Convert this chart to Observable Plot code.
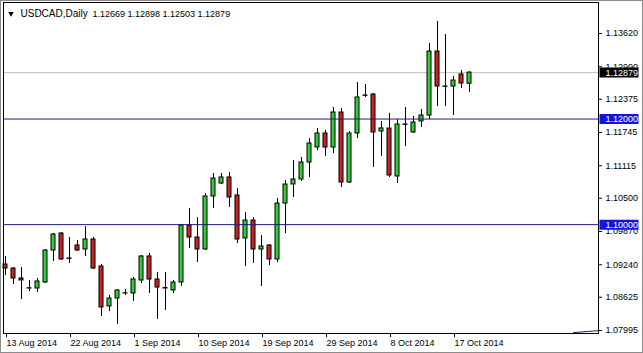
<!DOCTYPE html>
<html><head><meta charset="utf-8">
<script src="https://cdn.jsdelivr.net/npm/d3@7"></script>
<script src="https://cdn.jsdelivr.net/npm/@observablehq/plot@0.6"></script>
<style>
html,body{margin:0;padding:0;background:#fff;}
#chart svg{display:block;outline:1px solid #8c8c8c;outline-offset:-1px;}
</style></head><body><div id="chart"></div>
<script>
const symbolName = "USDCAD";
const timeframe = "Daily";
const dates = ["2014-08-13","2014-08-14","2014-08-15","2014-08-17","2014-08-18","2014-08-19","2014-08-20","2014-08-21","2014-08-22","2014-08-24",
"2014-08-25","2014-08-26","2014-08-27","2014-08-28","2014-08-29","2014-08-31","2014-09-01","2014-09-02","2014-09-03","2014-09-04",
"2014-09-05","2014-09-07","2014-09-08","2014-09-09","2014-09-10","2014-09-11","2014-09-12","2014-09-14","2014-09-15","2014-09-16",
"2014-09-17","2014-09-18","2014-09-19","2014-09-21","2014-09-22","2014-09-23","2014-09-24","2014-09-25","2014-09-26","2014-09-28",
"2014-09-29","2014-09-30","2014-10-01","2014-10-02","2014-10-03","2014-10-05","2014-10-06","2014-10-07","2014-10-08","2014-10-09",
"2014-10-10","2014-10-12","2014-10-13","2014-10-14","2014-10-15","2014-10-16","2014-10-17","2014-10-19","2014-10-20"];
const open = [1.09245,1.09169,1.08980,1.08795,1.08790,1.08904,1.09510,1.09832,1.09350,1.09605,
1.09529,1.09719,1.09207,1.08450,1.08601,1.08700,1.08696,1.08942,1.09397,1.08961,
1.08800,1.08753,1.08904,1.09984,1.09756,1.09529,1.10533,1.10779,1.10893,1.10552,
1.09738,1.10078,1.09529,1.09605,1.09340,1.10400,1.10760,1.10855,1.11177,1.11461,
1.11726,1.11461,1.12124,1.10798,1.11726,1.12440,1.12465,1.11764,1.11821,1.10912,
1.11890,1.11745,1.11954,1.12067,1.13279,1.12610,1.12616,1.12844,1.12669];
const high = [1.09397,1.09188,1.09188,1.08942,1.08980,1.09529,1.09832,1.09851,1.09756,1.09700,
1.09965,1.09756,1.09245,1.08658,1.08772,1.08772,1.08999,1.09416,1.09453,1.09094,
1.09094,1.08942,1.10003,1.10306,1.10135,1.10590,1.10969,1.10969,1.10988,1.10684,
1.10230,1.10135,1.09794,1.09624,1.10495,1.10836,1.11215,1.11271,1.11631,1.11821,
1.11783,1.12218,1.12200,1.11764,1.12692,1.12654,1.12484,1.11954,1.12105,1.11991,
1.12218,1.12048,1.12181,1.13431,1.13847,1.13601,1.12806,1.12919,1.12898];
const low = [1.09037,1.08866,1.08582,1.08734,1.08715,1.08885,1.09302,1.09321,1.09264,1.09491,
1.09397,1.09150,1.08260,1.08355,1.08109,1.08658,1.08544,1.08885,1.08696,1.08203,
1.08374,1.08696,1.08828,1.09548,1.09283,1.09510,1.10306,1.10760,1.10325,1.09643,
1.09207,1.09264,1.08828,1.09226,1.09283,1.09832,1.10514,1.10817,1.10893,1.11404,
1.11291,1.11347,1.10703,1.10779,1.11631,1.12408,1.11082,1.11291,1.10893,1.10779,
1.11480,1.11726,1.11840,1.11991,1.12237,1.12237,1.12067,1.12578,1.12503];
const close = [1.09169,1.08980,1.08942,1.08790,1.08923,1.09510,1.09813,1.09340,1.09359,1.09510,
1.09719,1.09169,1.08431,1.08601,1.08753,1.08696,1.08961,1.09397,1.08961,1.08809,
1.08790,1.08904,1.09984,1.09756,1.09529,1.10533,1.10874,1.10893,1.10514,1.09719,
1.10078,1.09529,1.09586,1.09340,1.10400,1.10760,1.10855,1.11177,1.11537,1.11726,
1.11461,1.12124,1.10798,1.11726,1.12408,1.12446,1.11745,1.11821,1.10931,1.11897,
1.11897,1.11935,1.12067,1.13279,1.12616,1.12616,1.12730,1.12673,1.12879];
const hLevels = [1.12000, 1.10000];
const yTicks = [1.13620,1.12990,1.12375,1.11745,1.11115,1.10500,1.09870,1.09240,1.08625,1.07995];
const xTickDates = ["2014-08-13","2014-08-22","2014-09-01","2014-09-10","2014-09-19","2014-09-29","2014-10-08","2014-10-17"];
const trendX = [71, 74.1];
const trendY = [1.07955, 1.07992];

const GREEN = "#32cd32", RED = "#cc2222", NAVY = "#1c1c78", BOXBLUE = "#1414e0";
const fmt5 = d3.format(".5f");
const parse = d3.utcParse("%Y-%m-%d"), fmtDate = d3.utcFormat("%-d %b %Y");
const data = dates.map((d, i) => ({i, date: d, open: open[i], high: high[i], low: low[i], close: close[i]}));
const last = data[data.length - 1];
const tickIdx = xTickDates.map(d => dates.indexOf(d));
const trend = trendX.map((x, k) => ({x, y: trendY[k]}));
const boxes = [{v: last.close, c: "#000000"}, ...hLevels.map(v => ({v, c: BOXBLUE}))];
const boxSymbol = {draw(ctx) { ctx.moveTo(-20, -5); ctx.lineTo(19, -5); ctx.lineTo(19, 5); ctx.lineTo(-20, 5); ctx.closePath(); }};
const font = "'Liberation Sans', Arial, sans-serif";

const chart = Plot.plot({
  width: 643, height: 353,
  marginLeft: 3, marginTop: 2, marginRight: 45, marginBottom: 20,
  style: {fontFamily: font, fontSize: "9px", background: "#fff", color: "#000", overflow: "visible"},
  x: {type: "linear", domain: [-0.25, 74.125]},
  y: {type: "linear", domain: [1.079382, 1.142071]},
  color: {type: "identity"},
  marks: [
    Plot.ruleY([last.close], {stroke: "#c0c0c0"}),
    Plot.ruleX(data, {x: "i", y1: "low", y2: "high", stroke: "#000"}),
    Plot.rect(data, {x1: d => d.i - 0.25, x2: d => d.i + 0.25, y1: "open", y2: "close",
      fill: d => d.close >= d.open ? GREEN : RED, stroke: "#000", strokeWidth: 1}),
    Plot.ruleY(hLevels, {stroke: NAVY}),
    Plot.line(trend, {x: "x", y: "y", stroke: NAVY, strokeWidth: 1}),
    Plot.frame({stroke: "#000"}),
    Plot.axisX({ticks: tickIdx, tickFormat: i => fmtDate(parse(dates[i])), tickSize: 4, tickPadding: 2,
      textAnchor: "start", dx: 1, fontSize: 9, label: null, stroke: "#000", fill: "#000"}),
    Plot.axisY({anchor: "right", ticks: yTicks, tickFormat: fmt5, tickSize: 3, tickPadding: 4,
      fontSize: 9, label: null, stroke: "#000", fill: "#000"}),
    Plot.dot(boxes, {y: "v", frameAnchor: "right", dx: 21, symbol: boxSymbol, fill: "c", stroke: null, r: 3}),
    Plot.text(boxes, {y: "v", text: d => fmt5(d.v), frameAnchor: "right", dx: 7, textAnchor: "start", fill: "#fff", fontSize: 9}),
    Plot.dot([0], {frameAnchor: "top-left", dx: 7.5, dy: 11, symbol: "triangle2", rotate: 180, r: 2.6, fill: "#000", stroke: null}),
    Plot.text([symbolName + "," + timeframe], {frameAnchor: "top-left", dx: 17, dy: 11.5, textAnchor: "start", lineAnchor: "middle", fontSize: 10, fill: "#000"}),
    Plot.text([[last.open, last.high, last.low, last.close].map(fmt5).join(" ")], {frameAnchor: "top-left", dx: 89, dy: 11.5, textAnchor: "start", lineAnchor: "middle", fontSize: 9, fill: "#000"})
  ]
});
document.getElementById("chart").append(chart);
</script></body></html>
